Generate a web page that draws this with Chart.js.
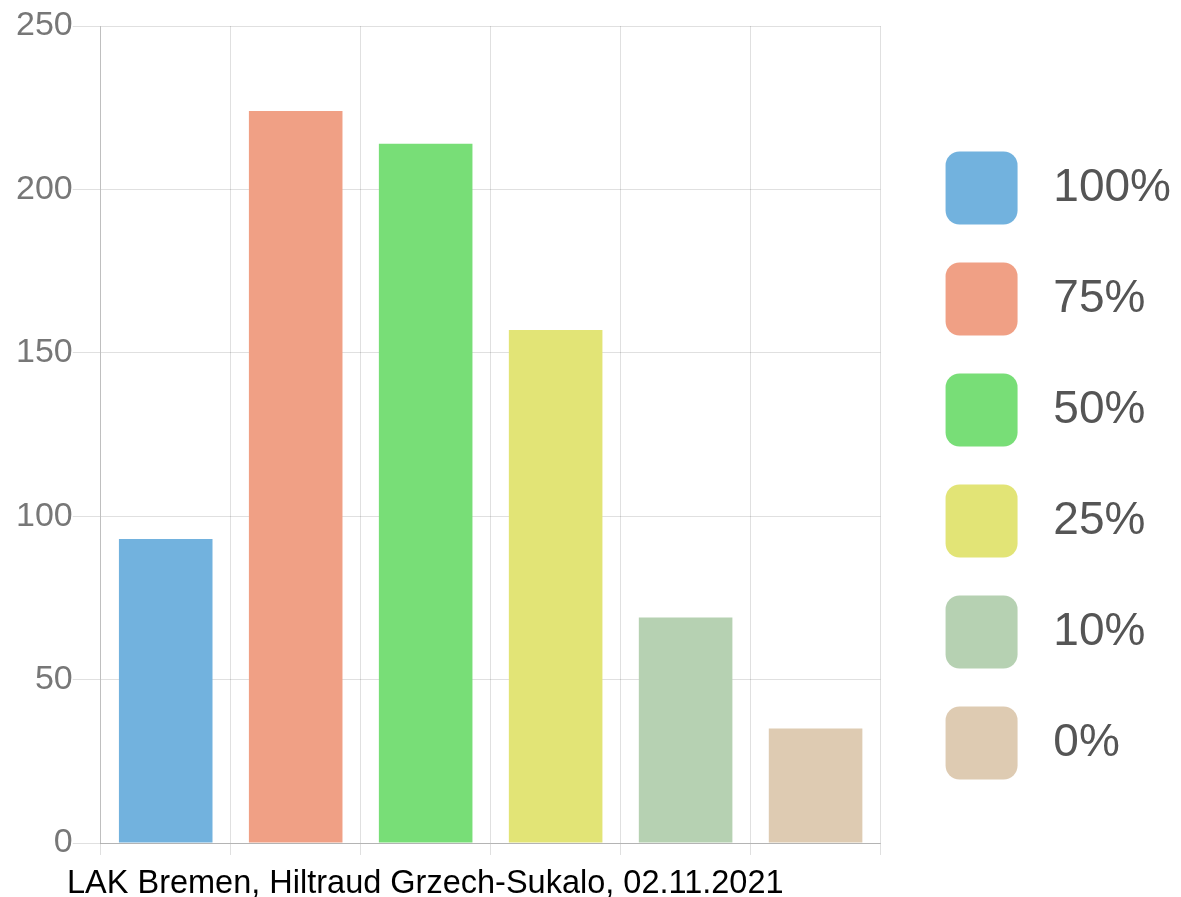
<!DOCTYPE html>
<html>
<head>
<meta charset="utf-8">
<script src="https://cdn.jsdelivr.net/npm/chart.js@4/dist/chart.umd.min.js"></script>
<style>
  html, body { margin: 0; padding: 0; background: #fff; }
  #wrap { position: relative; width: 1181px; height: 897px; }
  #c { position: absolute; left: 0; top: 0; }
  #footer { position: absolute; left: 67px; top: 866px; font: 32.5px "Liberation Sans", Arial, sans-serif; line-height: 32px; color: #000; white-space: nowrap; }
</style>
</head>
<body>
<div id="wrap">
  <canvas id="c" width="1181" height="897"></canvas>
  <div id="footer">LAK Bremen, Hiltraud Grzech-Sukalo, 02.11.2021</div>
</div>
<script>
const categories = ['100%', '75%', '50%', '25%', '10%', '0%'];
const values = [93, 224, 214, 157, 69, 35];
const barColors = ['#72B2DE', '#F0A085', '#78DE77', '#E2E476', '#B6D1B2', '#DECBB2'];
const yMin = 0, yMax = 250, yStep = 50;

new Chart(document.getElementById('c'), {
  type: 'bar',
  data: {
    labels: categories,
    datasets: [{
      data: values,
      backgroundColor: barColors,
      borderWidth: 0
    }]
  },
  options: {
    responsive: false,
    animation: false,
    layout: { padding: { top: 26, left: 16, right: 0, bottom: 42 } },
    plugins: {
      tooltip: { enabled: false },
      legend: {
        position: 'right',
        maxWidth: 300,
        title: { display: true, text: '', font: { size: 10, lineHeight: 1 }, padding: { top: 40, bottom: 0 } },
        labels: {
          boxWidth: 72,
          boxHeight: 73,
          padding: 38,
          useBorderRadius: true,
          borderRadius: 14,
          color: '#555',
          font: { family: '"Liberation Sans", Arial, sans-serif', size: 46 },
          generateLabels: (chart) => categories.map((c, i) => ({
            text: ' ' + c,
            fillStyle: barColors[i],
            strokeStyle: barColors[i],
            lineWidth: 0,
            borderRadius: 14,
            hidden: false,
            index: i,
            datasetIndex: 0,
            fontColor: '#555'
          }))
        }
      }
    },
    scales: {
      x: {
        grid: { display: true, tickLength: 12, color: 'rgba(0,0,0,0.12)' },
        border: { color: 'rgba(0,0,0,0.2)' },
        ticks: { display: false }
      },
      y: {
        min: yMin,
        max: yMax,
        grid: { tickLength: 28, color: 'rgba(0,0,0,0.12)' },
        border: { color: 'rgba(0,0,0,0.15)' },
        ticks: {
          stepSize: yStep,
          padding: 0,
          color: '#777',
          font: { family: '"Liberation Sans", Arial, sans-serif', size: 34 }
        }
      },
      yPad: {
        type: 'linear',
        position: 'right',
        display: true,
        grid: { display: false },
        border: { display: false },
        ticks: { display: false },
        afterFit: (s) => { s.width = 27; }
      }
    }
  }
});
</script>
</body>
</html>
